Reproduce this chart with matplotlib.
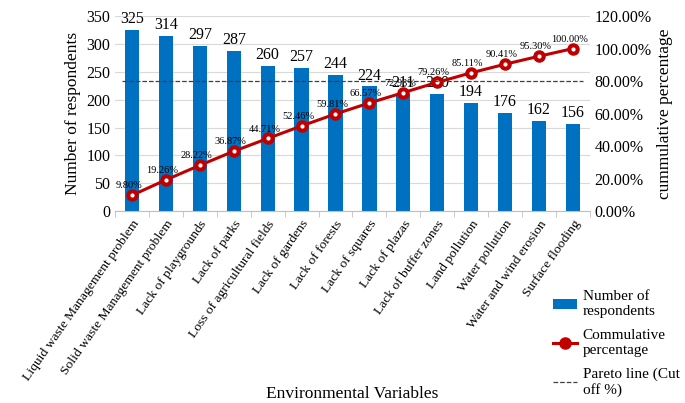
import numpy as np
import matplotlib
matplotlib.use('Agg')
import matplotlib.pyplot as plt
from matplotlib.ticker import FuncFormatter

plt.rcParams['font.family'] = ['Liberation Serif', 'DejaVu Serif']

variables = ['Liquid waste Management problem', 'Solid waste Management problem',
             'Lack of playgrounds', 'Lack of parks', 'Loss of agricultural fields',
             'Lack of gardens', 'Lack of forests', 'Lack of squares', 'Lack of plazas',
             'Lack of buffer zones', 'Land pollution', 'Water pollution',
             'Water and wind erosion', 'Surface flooding']
respondents = [325, 314, 297, 287, 260, 257, 244, 224, 211, 210, 194, 176, 162, 156]
cum_pct = [9.80, 19.26, 28.22, 36.87, 44.71, 52.46, 59.81, 66.57, 72.93, 79.26,
           85.11, 90.41, 95.30, 100.00]
pareto_cut = 80

fig = plt.figure(figsize=(6.85, 4.03), dpi=100)
ax = fig.add_axes([0.168, 0.476, 0.693, 0.484])
x = np.arange(len(variables))

ax.set_axisbelow(True)
ax.yaxis.grid(True, color='#d9d9d9', lw=0.8)
bars = ax.bar(x, respondents, width=0.42, color='#0070C0', label='Number of\nrespondents')
for xi, v in zip(x, respondents):
    ax.text(xi, v + 5, str(v), ha='center', va='bottom', fontsize=11.5)
ax.set_ylim(0, 350)
ax.set_yticks(range(0, 351, 50))
ax.set_xlim(-0.5, len(x) - 0.5)
ax.set_xticks(x)
ax.set_xticklabels(variables, rotation=55, ha='right', rotation_mode='anchor', fontsize=9.7)
ax.set_xticks(np.arange(-0.5, len(x), 1), minor=True)
ax.tick_params(axis='x', which='minor', length=4, color='#bfbfbf')
ax.tick_params(axis='y', labelsize=11.5, length=0)
ax.tick_params(axis='x', which='major', length=0, pad=5)
ax.set_ylabel('Number of respondents', fontsize=12.5)
ax.set_xlabel('Environmental Variables', fontsize=12.5, labelpad=2)
for s in ['top', 'right', 'left']:
    ax.spines[s].set_visible(False)
ax.spines['bottom'].set_color('#bfbfbf')

ax2 = ax.twinx()
line, = ax2.plot(x, cum_pct, color='#C00000', lw=2.2, marker='o', ms=8,
                 mfc='#C00000', mec='#C00000', label='Commulative\npercentage')
ax2.plot(x, cum_pct, ls='none', marker='o', ms=2, color='white')
for xi, p in zip(x, cum_pct):
    ax2.text(xi - 0.1, p + 3, f'{p:.2f}%', ha='center', va='bottom', fontsize=7.5)
pareto, = ax2.plot([-0.3, len(x) - 0.7], [pareto_cut, pareto_cut], color='#404040',
                   ls='--', lw=0.9, label='Pareto line (Cut\noff %)')
ax2.set_ylim(0, 120)
ax2.set_yticks(range(0, 121, 20))
ax2.yaxis.set_major_formatter(FuncFormatter(lambda v, p: f'{v:.2f}%'))
ax2.tick_params(axis='y', labelsize=11.5, length=0)
ax2.set_ylabel('cummulative percentage', fontsize=12.5)
for s in ['top', 'right', 'left', 'bottom']:
    ax2.spines[s].set_visible(False)

fig.legend(handles=[bars, line, pareto], loc='upper left', bbox_to_anchor=(0.798, 0.295),
           frameon=False, fontsize=11, handlelength=1.6, labelspacing=0.7,
           borderaxespad=0, handletextpad=0.35)

fig.savefig('out.png', dpi=100)
